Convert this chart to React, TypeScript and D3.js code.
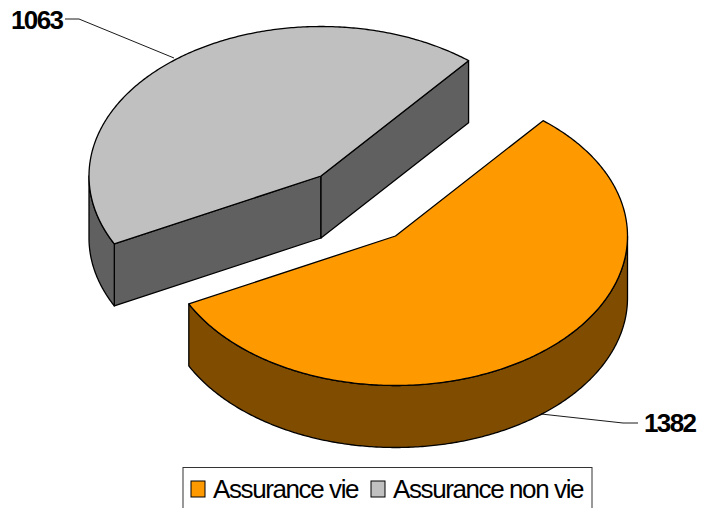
import React from "react";
import * as d3 from "d3";

// Sector values and legend names
const categories = ["Assurance vie", "Assurance non vie"];
const values = [1382, 1063];
const topColors = ["#FF9900", "#C0C0C0"];
const wallColors = ["#7F4C00", "#606060"];

const WIDTH = 701;
const HEIGHT = 508;
const RX = 232;
const RY = 149.5;
const DEPTH = 62;
const START = (39.5 * Math.PI) / 180;
// Apex of each exploded sector on the page
const apexes: [number, number][] = [
  [395.5, 236],
  [321, 176],
];
// Angular range (clockwise from 12 o'clock) in which the rim faces the viewer
const FRONT_FROM = Math.PI / 2;
const FRONT_TO = (3 * Math.PI) / 2;

const pie = d3
  .pie<number>()
  .sort(null)
  .startAngle(START)
  .endAngle(START + 2 * Math.PI);
const slices = pie(values);

const line = d3.line<[number, number]>();
const INK = "#000";

function rim(cx: number, cy: number, a0: number, a1: number, dy = 0): [number, number][] {
  const steps = Math.max(2, Math.ceil(Math.abs(a1 - a0) / 0.01));
  const angle = d3.scaleLinear().domain([0, steps]).range([a0, a1]);
  return d3.range(steps + 1).map((i) => {
    const a = angle(i);
    return [cx + RX * Math.sin(a), cy - RY * Math.cos(a) + dy] as [number, number];
  });
}

function Sector({ index }: { index: number }) {
  const s = slices[index];
  const [cx, cy] = apexes[index];
  const wallFrom = Math.max(s.startAngle, FRONT_FROM);
  const wallTo = Math.min(s.endAngle, FRONT_TO);
  const topPts = [[cx, cy] as [number, number], ...rim(cx, cy, s.startAngle, s.endAngle)];
  const wallTop = rim(cx, cy, wallFrom, wallTo);
  const wallBottom = rim(cx, cy, wallTo, wallFrom, DEPTH);
  const a = rim(cx, cy, s.endAngle, s.endAngle)[0];
  const b = rim(cx, cy, s.startAngle, s.startAngle)[0];
  const wall = wallColors[index];
  // The cut faces only show on the grey sector, which sits behind the gap
  const cutFaces = index === 1;
  return (
    <g stroke={INK} strokeWidth={1.3} strokeLinejoin="round">
      {cutFaces && (
        <>
          <path
            d={line([[cx, cy], b, [b[0], b[1] + DEPTH], [cx, cy + DEPTH]])! + "Z"}
            fill={wall}
          />
          <path
            d={line([[cx, cy], a, [a[0], a[1] + DEPTH], [cx, cy + DEPTH]])! + "Z"}
            fill={wall}
          />
        </>
      )}
      <path d={line([...wallTop, ...wallBottom])! + "Z"} fill={wall} />
      <path d={line(topPts)! + "Z"} fill={topColors[index]} />
    </g>
  );
}

export default function App() {
  const labelFont = "'Liberation Sans', Arial, sans-serif";
  return (
    <svg
      width={WIDTH}
      height={HEIGHT}
      viewBox={`0 0 ${WIDTH} ${HEIGHT}`}
      style={{ position: "absolute", left: 0, top: 0, display: "block", background: "#fff" }}
    >
      <Sector index={1} />
      <Sector index={0} />

      {/* Leader lines */}
      <path d={line([[65, 19], [79, 19], [174, 58]])!} fill="none" stroke={INK} strokeWidth={0.9} />
      <path d={line([[541, 414], [623, 423], [638, 423]])!} fill="none" stroke={INK} strokeWidth={0.9} />

      {/* Value labels */}
      <g fontFamily={labelFont} fontWeight="bold" fontSize={26} letterSpacing={-1.6} fill="#000">
        <text x={11} y={29}>{values[1]}</text>
        <text x={644} y={432}>{values[0]}</text>
      </g>

      {/* Legend, running off the bottom edge of the page */}
      <rect x={183} y={467.5} width={409} height={60} fill="#fff" stroke="#333" strokeWidth={1} />
      <g fontFamily={labelFont} fontSize={26} letterSpacing={-1.4} fill="#000">
        <rect x={191} y={481} width={14} height={16} fill={topColors[0]} stroke="#000" strokeWidth={1} />
        <text x={213} y={498}>{categories[0]}</text>
        <rect x={371} y={481} width={14} height={16} fill={topColors[1]} stroke="#000" strokeWidth={1} />
        <text x={393} y={498}>{categories[1]}</text>
      </g>
    </svg>
  );
}
